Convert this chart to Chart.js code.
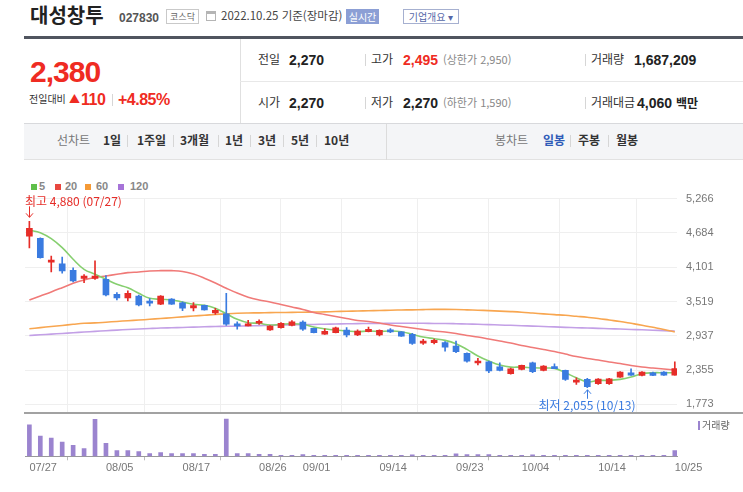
<!DOCTYPE html>
<html lang="ko">
<head>
<meta charset="utf-8">
<title>대성창투 027830</title>
<script src="https://cdn.jsdelivr.net/npm/chart.js@4.4.1/dist/chart.umd.min.js"></script>
<style>
  body { margin: 0; background: #fff; font-family: "Noto Sans CJK KR", "Noto Sans", sans-serif; color: #333; }
  #page { position: relative; width: 743px; height: 492px; overflow: hidden; }
  .t { position: absolute; white-space: nowrap; line-height: 1; }
  .num { font-family: "Liberation Sans", Arial, sans-serif; }
  .box { position: absolute; box-sizing: border-box; text-align: center; white-space: nowrap; }
  .line { position: absolute; }
  .lbl { font-size: 12px; color: #333; }
  .val { font-size: 14px; font-weight: 700; color: #222; }
  .sub { font-size: 11px; color: #888; }
  .sep { position: absolute; width: 1px; height: 12px; background: #d6d6d6; }
  .tab { font-size: 12px; font-weight: 700; color: #333; }
  .sq { position: absolute; width: 6px; height: 6px; top: 184px; }
  .lg { top: 181px; font-size: 11px; font-weight: 700; color: #888; }
  canvas { position: absolute; left: 0; }
</style>
</head>
<body>
<div id="page">
  <!-- title row -->
  <div class="t" style="left:30px;top:5px;font-size:20px;font-weight:700;color:#222">대성창투</div>
  <div class="t num" style="left:119px;top:12px;font-size:12px;font-weight:700;color:#555">027830</div>
  <div class="box" style="left:166px;top:9px;width:33px;height:15px;border:1px solid #c9c9c9;font-size:9px;line-height:13px;color:#666">코스닥</div>
  <div class="box" style="left:206px;top:11px;width:10px;height:10px;border:1px solid #b5b5b5;border-top:3px solid #b5b5b5"></div>
  <div class="t" style="left:221px;top:10px;font-size:11.5px;color:#444">2022.10.25 기준(장마감)</div>
  <div class="box" style="left:346px;top:9px;width:33px;height:15px;background:#8c9fd5;color:#fff;font-size:10px;line-height:15px">실시간</div>
  <div class="box" style="left:403px;top:9px;width:56px;height:15px;border:1px solid #a6b0d0;color:#5567a8;font-size:10px;line-height:13px">기업개요 ▾</div>

  <div class="line" style="left:24px;top:36px;width:719px;height:3px;background:#50555f"></div>

  <!-- current price -->
  <div class="t num" style="left:30px;top:57px;font-size:30px;font-weight:700;letter-spacing:-1px;color:#ef2b22">2,380</div>
  <div class="t" style="left:29px;top:94px;font-size:10px;color:#333">전일대비</div>
  <div class="t" style="left:69px;top:93px;font-size:11px;color:#ef2b22">▲</div>
  <div class="t num" style="left:81px;top:92px;font-size:16px;font-weight:700;letter-spacing:-0.5px;color:#ef2b22">110</div>
  <div class="sep" style="left:112px;top:94px"></div>
  <div class="t num" style="left:118px;top:92px;font-size:16px;font-weight:700;letter-spacing:-0.5px;color:#ef2b22">+4.85%</div>

  <div class="line" style="left:240px;top:39px;width:1px;height:84px;background:#e0e0e0"></div>
  <div class="line" style="left:240px;top:81px;width:503px;height:1px;background:#e8e8e8"></div>

  <!-- row 1 -->
  <div class="t lbl" style="left:258px;top:53px">전일</div>
  <div class="t num val" style="left:289px;top:53px">2,270</div>
  <div class="sep" style="left:365px;top:54px"></div>
  <div class="t lbl" style="left:371px;top:53px">고가</div>
  <div class="t num val" style="left:403px;top:53px;color:#ef2b22">2,495</div>
  <div class="t sub" style="left:443px;top:54px">(상한가 2,950)</div>
  <div class="sep" style="left:585px;top:54px"></div>
  <div class="t lbl" style="left:591px;top:53px">거래량</div>
  <div class="t num val" style="left:634px;top:53px">1,687,209</div>

  <!-- row 2 -->
  <div class="t lbl" style="left:258px;top:96px">시가</div>
  <div class="t num val" style="left:289px;top:96px">2,270</div>
  <div class="sep" style="left:365px;top:97px"></div>
  <div class="t lbl" style="left:371px;top:96px">저가</div>
  <div class="t num val" style="left:403px;top:96px">2,270</div>
  <div class="t sub" style="left:443px;top:97px">(하한가 1,590)</div>
  <div class="sep" style="left:585px;top:97px"></div>
  <div class="t lbl" style="left:591px;top:96px">거래대금</div>
  <div class="t num val" style="left:637px;top:96px">4,060 <span style="font-family:'Noto Sans CJK KR';font-size:12px">백만</span></div>

  <!-- period bar -->
  <div class="box" style="left:24px;top:123px;width:719px;height:37px;background:#f4f5f7;border-top:1px solid #d8d9dc;border-bottom:1px solid #e2e2e2"></div>
  <div class="t" style="left:57px;top:134px;font-size:12px;color:#777">선차트</div>
  <div class="t tab" style="left:103px;top:134px">1일</div>
  <div class="sep" style="left:127px;top:135px"></div>
  <div class="t tab" style="left:137px;top:134px">1주일</div>
  <div class="sep" style="left:173px;top:135px"></div>
  <div class="t tab" style="left:180px;top:134px">3개월</div>
  <div class="sep" style="left:218px;top:135px"></div>
  <div class="t tab" style="left:225px;top:134px">1년</div>
  <div class="sep" style="left:250px;top:135px"></div>
  <div class="t tab" style="left:258px;top:134px">3년</div>
  <div class="sep" style="left:283px;top:135px"></div>
  <div class="t tab" style="left:291px;top:134px">5년</div>
  <div class="sep" style="left:316px;top:135px"></div>
  <div class="t tab" style="left:324px;top:134px">10년</div>
  <div class="line" style="left:386px;top:124px;width:1px;height:36px;background:#dcdcdc"></div>
  <div class="t" style="left:495px;top:134px;font-size:12px;color:#777">봉차트</div>
  <div class="t tab" style="left:543px;top:134px;color:#2f5bb7">일봉</div>
  <div class="sep" style="left:570px;top:135px"></div>
  <div class="t tab" style="left:578px;top:134px">주봉</div>
  <div class="sep" style="left:608px;top:135px"></div>
  <div class="t tab" style="left:616px;top:134px">월봉</div>

  <!-- moving average legend -->
  <div class="sq" style="left:31px;background:#5fbf4a"></div>
  <div class="t num lg" style="left:39px">5</div>
  <div class="sq" style="left:55px;background:#e8473f"></div>
  <div class="t num lg" style="left:65px">20</div>
  <div class="sq" style="left:85px;background:#f59a36"></div>
  <div class="t num lg" style="left:96px">60</div>
  <div class="sq" style="left:118px;background:#a673d8"></div>
  <div class="t num lg" style="left:130px">120</div>

  <canvas id="priceChart" width="743" height="247" style="top:183px"></canvas>
  <div class="line" style="left:24px;top:412px;width:719px;height:2px;background:#a2a2a2"></div>
  <canvas id="volumeChart" width="743" height="79" style="top:413px"></canvas>
  <div class="line" style="left:698px;top:421px;width:2px;height:9px;background:#9b84cf"></div>
  <div class="t" style="left:702px;top:420px;font-size:10px;color:#666">거래량</div>
</div>

<script>
const dates = ["07/27", "07/28", "07/29", "08/01", "08/02", "08/03", "08/04", "08/05", "08/08", "08/09",
  "08/10", "08/11", "08/12", "08/16", "08/17", "08/18", "08/19", "08/22", "08/23", "08/24",
  "08/25", "08/26", "08/29", "08/30", "08/31", "09/01", "09/02", "09/05", "09/06", "09/07",
  "09/08", "09/13", "09/14", "09/15", "09/16", "09/19", "09/20", "09/21", "09/22", "09/23",
  "09/26", "09/27", "09/28", "09/29", "09/30", "10/04", "10/05", "10/06", "10/07", "10/11",
  "10/12", "10/13", "10/14", "10/17", "10/18", "10/19", "10/20", "10/21", "10/24", "10/25"];

const openP = [4630, 4590, 4185, 4160, 4050, 3910, 3912, 3895, 3640, 3580,
  3612, 3527, 3472, 3560, 3498, 3410, 3455, 3325, 3310, 3140,
  3105, 3150, 3035, 3075, 3115, 3170, 3063, 2963, 2990, 3035,
  2952, 3006, 2950, 3040, 3006, 2962, 2814, 2820, 2820, 2763,
  2639, 2475, 2497, 2412, 2293, 2367, 2480, 2350, 2407, 2350,
  2152, 2197, 2123, 2123, 2237, 2310, 2266, 2310, 2322, 2270];
const highP = [4880, 4600, 4290, 4275, 4090, 3975, 4210, 3960, 3670, 3700,
  3630, 3567, 3620, 3570, 3515, 3500, 3460, 3405, 3660, 3175,
  3200, 3210, 3110, 3160, 3195, 3190, 3070, 3055, 3085, 3075,
  3040, 3085, 3040, 3060, 3010, 2979, 2877, 2880, 2837, 2848,
  2650, 2554, 2508, 2480, 2390, 2440, 2490, 2430, 2463, 2355,
  2225, 2214, 2210, 2215, 2330, 2378, 2330, 2320, 2330, 2495];
const lowP = [4430, 4255, 4020, 4000, 3850, 3840, 3895, 3615, 3545, 3530,
  3445, 3445, 3465, 3470, 3365, 3360, 3372, 3300, 3115, 3050,
  3103, 3130, 3030, 3065, 3105, 3030, 2985, 2960, 2985, 2920,
  2940, 3005, 2935, 2990, 2925, 2792, 2792, 2800, 2678, 2649,
  2490, 2441, 2310, 2339, 2285, 2360, 2310, 2340, 2378, 2180,
  2113, 2055, 2110, 2110, 2230, 2265, 2255, 2260, 2265, 2270];
const closeP = [4760, 4265, 4222, 4040, 3870, 3950, 3950, 3630, 3580, 3658,
  3462, 3490, 3613, 3475, 3405, 3452, 3378, 3368, 3133, 3105,
  3130, 3175, 3103, 3148, 3175, 3048, 2990, 3015, 3072, 2950,
  3017, 3045, 3028, 3005, 2933, 2809, 2837, 2860, 2746, 2666,
  2508, 2503, 2339, 2350, 2378, 2435, 2327, 2424, 2380, 2197,
  2180, 2072, 2203, 2208, 2322, 2271, 2322, 2266, 2270, 2380];

const ma5 = [4729, 4688, 4586, 4433, 4236, 4066, 3982, 3897, 3811, 3754,
  3659, 3574, 3557, 3545, 3511, 3472, 3455, 3404, 3312, 3217,
  3159, 3149, 3120, 3132, 3142, 3132, 3086, 3057, 3035, 3018,
  3006, 3018, 3012, 3018, 3006, 2962, 2916, 2888, 2860, 2803,
  2707, 2593, 2508, 2440, 2406, 2406, 2395, 2390, 2384, 2310,
  2225, 2157, 2180, 2180, 2197, 2237, 2293, 2310, 2310, 2310];
const ma20 = [3545, 3613, 3681, 3754, 3829, 3885, 3924, 3953, 3982, 4009,
  4021, 4038, 4043, 4043, 4030, 3985, 3915, 3834, 3745, 3662,
  3592, 3545, 3511, 3468, 3426, 3384, 3333, 3299, 3265, 3231,
  3197, 3180, 3154, 3120, 3095, 3069, 3044, 3018, 3001, 2976,
  2942, 2916, 2882, 2848, 2814, 2772, 2738, 2704, 2670, 2627,
  2585, 2551, 2526, 2492, 2466, 2432, 2407, 2390, 2373, 2356];
const ma60 = [3057, 3076, 3095, 3113, 3132, 3149, 3156, 3168, 3181, 3193,
  3205, 3217, 3231, 3244, 3259, 3273, 3285, 3299, 3310, 3319,
  3324, 3327, 3331, 3333, 3334, 3338, 3341, 3344, 3349, 3355,
  3358, 3363, 3366, 3372, 3375, 3378, 3382, 3385, 3385, 3383,
  3378, 3372, 3365, 3356, 3348, 3338, 3324, 3310, 3297, 3285,
  3268, 3251, 3231, 3205, 3180, 3149, 3117, 3081, 3044, 3001];
const ma120 = [2942, 2954, 2966, 2977, 2989, 3001, 3013, 3023, 3034, 3044,
  3052, 3061, 3069, 3074, 3079, 3084, 3090, 3095, 3098, 3102,
  3105, 3110, 3115, 3120, 3124, 3127, 3130, 3134, 3137, 3141,
  3144, 3146, 3147, 3149, 3149, 3149, 3149, 3147, 3146, 3142,
  3137, 3132, 3127, 3120, 3115, 3108, 3102, 3095, 3088, 3081,
  3074, 3069, 3064, 3057, 3052, 3045, 3039, 3032, 3025, 3018];

const volume = [9400000, 6050000, 5450000, 4250000, 3300000, 2300000, 11000000, 3900000, 1700000, 1700000,
  1400000, 800000, 1100000, 800000, 800000, 800000, 550000, 550000, 11050000, 800000,
  800000, 550000, 550000, 300000, 300000, 500000, 300000, 300000, 300000, 300000,
  300000, 300000, 300000, 300000, 300000, 450000, 300000, 300000, 300000, 750000,
  500000, 500000, 500000, 300000, 300000, 300000, 450000, 300000, 300000, 300000,
  300000, 300000, 300000, 300000, 300000, 300000, 100000, 300000, 300000, 1687209];

const priceTicks = [1773, 2355, 2937, 3519, 4101, 4684, 5266];
const dateTickIdx = [0, 7, 14, 21, 25, 32, 39, 45, 52, 59];

const UP = "#e62d28";
const DOWN = "#3a7be0";
const candleColor = (ctx) => (closeP[ctx.dataIndex] >= openP[ctx.dataIndex] ? UP : DOWN);
const xMin = -0.4;
const xMax = 59.2;

const maLine = (values, color) => ({
  type: "line",
  data: values.map((v, i) => ({ x: i, y: v })),
  borderColor: color,
  borderWidth: 1.6,
  pointRadius: 0,
  tension: 0.4,
  fill: false,
  order: 3,
});

// 최고/최저 표시
const markers = {
  id: "markers",
  afterDatasetsDraw(chart) {
    const { ctx, scales } = chart;
    const x = scales.x, y = scales.y;
    let hi = 0, lo = 0;
    highP.forEach((v, i) => { if (v > highP[hi]) hi = i; });
    lowP.forEach((v, i) => { if (v < lowP[lo]) lo = i; });

    ctx.save();
    ctx.font = '12px "Noto Sans CJK KR", sans-serif';
    ctx.textBaseline = "middle";
    ctx.lineWidth = 1;

    const hx = Math.round(x.getPixelForValue(hi)), hy = y.getPixelForValue(highP[hi]);
    ctx.fillStyle = UP;
    ctx.strokeStyle = UP;
    ctx.textAlign = "left";
    ctx.fillText("최고 " + highP[hi].toLocaleString("en-US") + " (" + dates[hi] + ")", hx - 4, hy - 20);
    ctx.beginPath();
    ctx.moveTo(hx + 0.5, hy - 15);
    ctx.lineTo(hx + 0.5, hy - 4);
    ctx.moveTo(hx - 3, hy - 8);
    ctx.lineTo(hx + 0.5, hy - 4);
    ctx.lineTo(hx + 4, hy - 8);
    ctx.stroke();

    const lx = Math.round(x.getPixelForValue(lo)), ly = y.getPixelForValue(lowP[lo]);
    ctx.fillStyle = DOWN;
    ctx.strokeStyle = DOWN;
    ctx.textAlign = "center";
    ctx.fillText("최저 " + lowP[lo].toLocaleString("en-US") + " (" + dates[lo] + ")", lx, ly + 18);
    ctx.beginPath();
    ctx.moveTo(lx + 0.5, ly + 11);
    ctx.lineTo(lx + 0.5, ly + 2);
    ctx.moveTo(lx - 3, ly + 6);
    ctx.lineTo(lx + 0.5, ly + 2);
    ctx.lineTo(lx + 4, ly + 6);
    ctx.stroke();
    ctx.restore();
  },
};

const priceChart = new Chart(document.getElementById("priceChart"), {
  type: "bar",
  data: {
    datasets: [
      {
        label: "body",
        data: dates.map((d, i) => ({ x: i, y: [openP[i], closeP[i]] })),
        backgroundColor: candleColor,
        barThickness: 6,
        minBarLength: 2,
        grouped: false,
        order: 1,
      },
      {
        label: "wick",
        data: dates.map((d, i) => ({ x: i, y: [lowP[i], highP[i]] })),
        backgroundColor: candleColor,
        barThickness: 1,
        grouped: false,
        order: 2,
      },
      maLine(ma5, "#86cf6f"),
      maLine(ma20, "#f07a78"),
      maLine(ma60, "#f8a650"),
      maLine(ma120, "#c3a0e6"),
    ],
  },
  options: {
    responsive: false,
    animation: false,
    devicePixelRatio: 1,
    layout: { padding: { left: 25 } },
    plugins: { legend: { display: false }, tooltip: { enabled: false } },
    scales: {
      x: {
        type: "linear",
        offset: false,
        min: xMin,
        max: xMax,
        ticks: { display: false },
        grid: {
          drawTicks: false,
          color: "#efefef",
        },
        border: { display: false },
        afterBuildTicks: (scale) => {
          scale.ticks = dateTickIdx.map((v) => ({ value: v }));
        },
        afterFit: (scale) => {
          scale.height = 0;
        },
      },
      y: {
        position: "right",
        min: 1603,
        max: 5266,
        afterBuildTicks: (scale) => {
          scale.ticks = priceTicks.map((v) => ({ value: v }));
        },
        afterFit: (scale) => {
          scale.width = 66;
        },
        ticks: {
          padding: 9,
          color: "#777",
          font: { family: "Liberation Sans", size: 11 },
          callback: (v) => v.toLocaleString("en-US"),
        },
        grid: { drawTicks: false, color: "#efefef" },
        border: { display: false },
      },
    },
  },
  plugins: [markers],
});

const volumeChart = new Chart(document.getElementById("volumeChart"), {
  type: "bar",
  data: {
    datasets: [
      {
        label: "거래량",
        data: volume.map((v, i) => ({ x: i, y: v })),
        backgroundColor: "#9b84cf",
        barThickness: 4,
        minBarLength: 1,
      },
    ],
  },
  options: {
    responsive: false,
    animation: false,
    devicePixelRatio: 1,
    layout: { padding: { left: 25, top: 1, bottom: 15.7 } },
    plugins: { legend: { display: false }, tooltip: { enabled: false } },
    scales: {
      x: {
        type: "linear",
        offset: false,
        min: xMin,
        max: xMax,
        afterBuildTicks: (scale) => {
          scale.ticks = dateTickIdx.map((v) => ({ value: v }));
        },
        afterFit: (scale) => {
          scale.height = 20;
        },
        ticks: {
          autoSkip: false,
          maxRotation: 0,
          align: "start",
          padding: 1,
          color: "#777",
          font: { family: "Liberation Sans", size: 11 },
          callback: (v) => dates[v],
        },
        grid: { drawOnChartArea: false, tickLength: 4, tickColor: "#bbb" },
        border: { display: true, color: "#999" },
      },
      y: {
        position: "right",
        min: 0,
        max: 12600000,
        afterFit: (scale) => {
          scale.width = 66;
        },
        ticks: { display: false },
        grid: { display: false },
        border: { display: false },
      },
    },
  },
});
</script>
</body>
</html>
